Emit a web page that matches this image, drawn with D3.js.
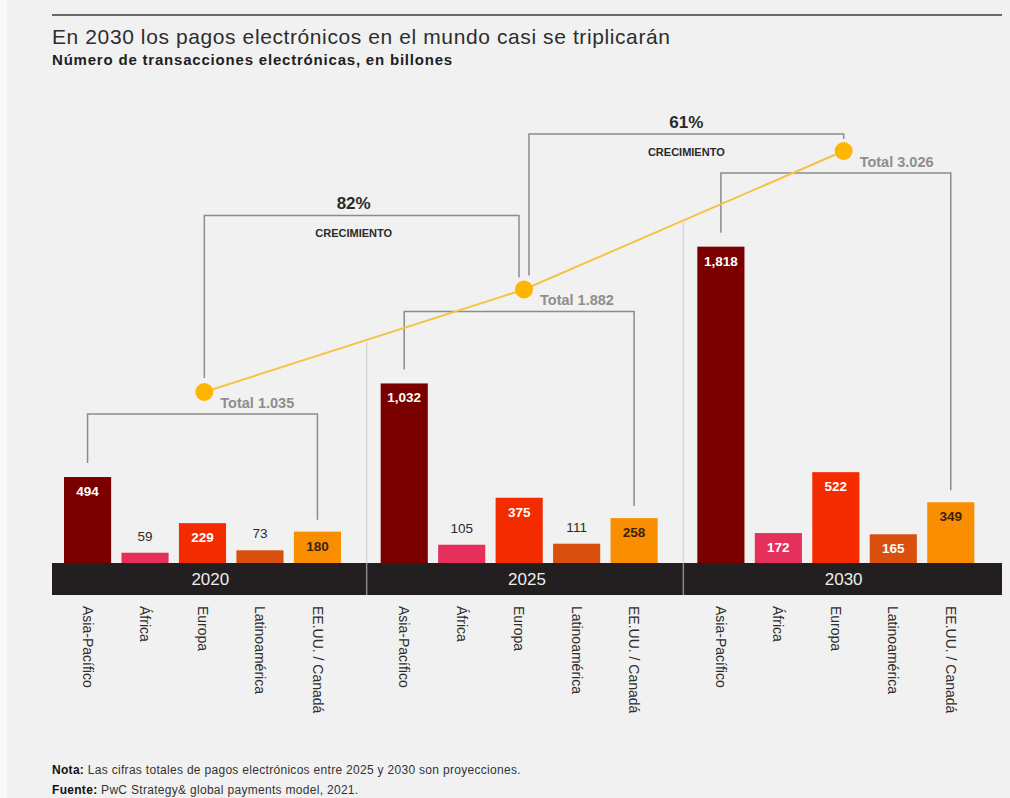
<!DOCTYPE html>
<html>
<head>
<meta charset="utf-8">
<script src="https://cdn.jsdelivr.net/npm/d3@7"></script>
<style>
    html, body { margin: 0; padding: 0; background: #f1f1f1; }
    svg { display: block; font-family: "Liberation Sans", Arial, sans-serif; }
</style>
</head>
<body>
<svg id="chart"></svg>
<script>
// Data
const years = ['2020', '2025', '2030'];
const regions = ['Asia-Pacífico', 'África', 'Europa', 'Latinoamérica', 'EE.UU. / Canadá'];
const values2020 = [494, 59, 229, 73, 180];
const values2025 = [1032, 105, 375, 111, 258];
const values2030 = [1818, 172, 522, 165, 349];
const totals = [1035, 1882, 3026];

const title = 'En 2030 los pagos electrónicos en el mundo casi se triplicarán';
const subtitle = 'Número de transacciones electrónicas, en billones';
const growthLabel = 'CRECIMIENTO';
const noteText = ['Nota:', ' Las cifras totales de pagos electrónicos entre 2025 y 2030 son proyecciones.'];
const sourceText = ['Fuente:', ' PwC Strategy& global payments model, 2021.'];

const valuesByYear = [values2020, values2025, values2030];
const regionColors = ['#7a0000', '#e5305c', '#f52b00', '#d9500e', '#f98e00'];
const labelColors = ['#fff', '#fff', '#fff', '#fff', '#3a2410'];

const W = 1010, H = 798;
const baseY = 563, bandH = 32;

const svg = d3.select('#chart').attr('width', W).attr('height', H);

svg.append('rect').attr('width', W).attr('height', H).attr('fill', '#f1f1f1');
svg.append('rect').attr('width', 7).attr('height', H).attr('fill', '#f8f8f8');

// Header
svg.append('line')
    .attr('x1', 52).attr('x2', 1002).attr('y1', 15).attr('y2', 15)
    .attr('stroke', '#3a3a3a').attr('stroke-width', 1.5);

svg.append('text')
    .attr('x', 52).attr('y', 44)
    .attr('font-size', 21).attr('letter-spacing', 0.6).attr('fill', '#2d2d2d')
    .text(title);

svg.append('text')
    .attr('x', 52).attr('y', 65)
    .attr('font-size', 15).attr('letter-spacing', 0.8)
    .attr('font-weight', 'bold').attr('fill', '#1e1e1e')
    .text(subtitle);

// Scales
const xGroup = d3.scaleBand().domain(years).range([52, 1002]).padding(0);
const xInner = d3.scaleBand().domain(regions).range([12, 289]).paddingInner(0.18).paddingOuter(0);
const y = d3.scaleLinear().domain([0, 2000]).range([baseY, baseY - 348]);
const yTotal = d3.scaleLinear().domain([totals[0], totals[2]]).range([392, 151]);

const fmtBar = d3.format(',');
const fmtTotal = d3.formatLocale({ decimal: ',', thousands: '.', grouping: [3], currency: ['', ''] }).format(',');
const fmtPct = d3.format('.0%');

const cx = yr => xGroup(yr) + xGroup.bandwidth() / 2;
const barCx = (yr, r) => xGroup(yr) + xInner(r) + xInner.bandwidth() / 2;

const points = years.map((yr, i) => ({ x: cx(yr) - 6 + 3 * i, y: yTotal(totals[i]), total: totals[i], year: yr }));
const lineY = x => {
    const seg = d3.pairs(points).find(([a, b]) => x >= a.x && x <= b.x);
    const t = (x - seg[0].x) / (seg[1].x - seg[0].x);
    return seg[0].y + t * (seg[1].y - seg[0].y);
};

// Group separators (start where the yellow line passes)
years.slice(1).forEach(yr => {
    const x = xGroup(yr) - 2;
    svg.append('line')
        .attr('x1', x).attr('x2', x)
        .attr('y1', lineY(x) + 2).attr('y2', baseY)
        .attr('stroke', '#d6d6d6').attr('stroke-width', 1.5);
});

// Bars
years.forEach((yr, gi) => {
    const g = svg.append('g').attr('transform', `translate(${xGroup(yr)},0)`);
    const vals = valuesByYear[gi];

    g.selectAll('rect.bar')
        .data(vals)
        .join('rect')
            .attr('class', 'bar')
            .attr('x', (d, i) => xInner(regions[i]))
            .attr('y', d => y(d))
            .attr('width', xInner.bandwidth())
            .attr('height', d => baseY - y(d))
            .attr('fill', (d, i) => regionColors[i]);

    g.selectAll('text.val')
        .data(vals)
        .join('text')
            .attr('class', 'val')
            .attr('x', (d, i) => xInner(regions[i]) + xInner.bandwidth() / 2)
            .attr('y', d => {
                const h = baseY - y(d);
                return h < 25 ? y(d) - 12 : y(d) + Math.min(19, h / 2 + 5);
            })
            .attr('text-anchor', 'middle')
            .attr('font-size', 13.5)
            .attr('font-weight', d => (baseY - y(d)) < 25 ? 'normal' : 'bold')
            .attr('fill', (d, i) => (baseY - y(d)) < 25 ? '#2a2a2a' : labelColors[i])
            .text(d => fmtBar(d));

    // Category labels, rotated
    g.selectAll('text.cat')
        .data(regions)
        .join('text')
            .attr('class', 'cat')
            .attr('transform', d => `translate(${xInner(d) + xInner.bandwidth() / 2},606) rotate(90)`)
            .attr('dy', '0.35em')
            .attr('font-size', 14)
            .attr('fill', '#2d2d2d')
            .text(d => d);
});

// Year band
svg.append('rect')
    .attr('x', 52).attr('y', baseY)
    .attr('width', 950).attr('height', bandH)
    .attr('fill', '#231f20');

years.slice(1).forEach(yr => {
    svg.append('line')
        .attr('x1', xGroup(yr) - 2).attr('x2', xGroup(yr) - 2)
        .attr('y1', baseY).attr('y2', baseY + bandH)
        .attr('stroke', '#8a8a8a').attr('stroke-width', 1.5);
});

svg.selectAll('text.year')
    .data(years)
    .join('text')
        .attr('class', 'year')
        .attr('x', d => cx(d))
        .attr('y', baseY + 22)
        .attr('text-anchor', 'middle')
        .attr('font-size', 17)
        .attr('fill', '#ececec')
        .text(d => d);

// Total brackets
points.forEach((p, i) => {
    const vals = valuesByYear[i];
    const xl = barCx(p.year, regions[0]);
    const xr = barCx(p.year, regions[regions.length - 1]);
    const by = p.y + 22;

    svg.append('path')
        .attr('d', `M${xl},${y(vals[0]) - 14}V${by}H${xr}V${y(vals[vals.length - 1]) - 12}`)
        .attr('fill', 'none').attr('stroke', '#8c8c8c').attr('stroke-width', 1.5);

    svg.append('text')
        .attr('x', p.x + 16).attr('y', by - 6)
        .attr('font-size', 14.5).attr('font-weight', 'bold')
        .attr('fill', '#8e8e8e')
        .text(`Total ${fmtTotal(p.total)}`);
});

// Growth brackets
d3.pairs(points).forEach(([a, b], i) => {
    const xl = a.x + (i > 0 ? 5 : 0);
    const xr = b.x - (i < points.length - 2 ? 5 : 0);
    const gy = b.y - (17 + 57 * (points.length - 2 - i));
    const mid = (xl + xr) / 2 - 8 * (points.length - 2 - i);

    svg.append('path')
        .attr('d', `M${xl},${a.y - 14}V${gy}H${xr}V${b.y - 12}`)
        .attr('fill', 'none').attr('stroke', '#8c8c8c').attr('stroke-width', 1.5);

    svg.append('text')
        .attr('x', mid).attr('y', gy - 6)
        .attr('text-anchor', 'middle')
        .attr('font-size', 17).attr('font-weight', 'bold')
        .attr('fill', '#2a2a2a')
        .text(fmtPct(b.total / a.total - 1));

    svg.append('text')
        .attr('x', mid).attr('y', gy + 22)
        .attr('text-anchor', 'middle')
        .attr('font-size', 11).attr('font-weight', 'bold')
        .attr('fill', '#2a2a2a')
        .text(growthLabel);
});

// Totals line + dots
svg.append('path')
    .datum(points)
    .attr('d', d3.line().x(d => d.x).y(d => d.y))
    .attr('fill', 'none')
    .attr('stroke', '#f5c343')
    .attr('stroke-width', 2);

svg.selectAll('circle.total')
    .data(points)
    .join('circle')
        .attr('class', 'total')
        .attr('cx', d => d.x).attr('cy', d => d.y)
        .attr('r', 9)
        .attr('fill', '#ffb600');

// Footer
[[noteText, 774], [sourceText, 794]].forEach(([parts, yy]) => {
    const t = svg.append('text')
        .attr('x', 52).attr('y', yy)
        .attr('font-size', 12).attr('letter-spacing', 0.3).attr('fill', '#333');
    t.append('tspan').attr('font-weight', 'bold').attr('fill', '#111').text(parts[0]);
    t.append('tspan').text(parts[1]);
});
</script>
</body>
</html>
